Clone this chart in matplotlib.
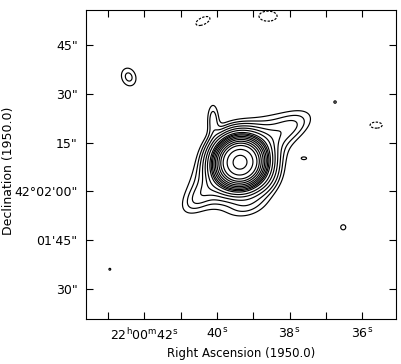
import numpy as np
import matplotlib
matplotlib.use("Agg")
import matplotlib.pyplot as plt

# map centre (RA seconds past 22h00m, Dec arcsec past 42d00m)
ra0 = 39.365
dec0 = 128.97

# emission components: offset east-west (arcsec, west +), offset north (arcsec),
# peak, sigma major, sigma minor (arcsec), angle of major axis (deg)
comp_dx = [0.0, 0.0, 15.4, -12.5, -8.3, 2.0, 9.0, -34.2, 31.7, 19.7, 29.2, -40.0, -11.4, 8.6, 41.8]
comp_dy = [0.0, 0.0, 10.8, -10.5, 13.2, -13.5, -6.0, 26.2, -20.0, 1.2, 18.5, -32.9, 43.4, 44.9, 11.4]
comp_amp = [1.0, 0.08, 0.025, 0.02, 0.025, 0.02, 0.015, 0.023, 0.014, 0.013, 0.0125, 0.0125, -0.016, -0.016, -0.016]
comp_smaj = [4.3, 10.0, 5.0, 4.0, 3.5, 4.5, 4.0, 2.43, 1.39, 1.5, 1.0, 1.0, 3.04, 3.65, 2.43]
comp_smin = [4.3, 4.4, 2.5, 2.0, 1.3, 2.5, 2.5, 1.88, 1.39, 0.77, 1.0, 1.0, 1.42, 2.03, 1.22]
comp_pa = [0, 40, 30, 45, 90, 15, 60, 110, 0, 0, 0, 0, 25, 0, 0]

neg_levels = [-0.012]
pos_levels = [0.012, 0.02, 0.03, 0.045, 0.065, 0.09, 0.125, 0.15, 0.175, 0.21,
              0.25, 0.30, 0.365, 0.44, 0.54, 0.72, 0.96]

xticks = [43, 42, 41, 40, 39, 38, 37, 36]
xlabels = ['', r'22$^{\rm h}$00$^{\rm m}$42$^{\rm s}$', '', r'40$^{\rm s}$', '',
           r'38$^{\rm s}$', '', r'36$^{\rm s}$']
yticks = [165, 150, 135, 120, 105, 90]
ylabels = ['45"', '30"', '15"', '42\u00b002\'00"', '01\'45"', '30"']

ra = np.linspace(35.0, 43.7, 900)
dec = np.linspace(80.0, 176.5, 900)
RA, DEC = np.meshgrid(ra, dec)
scale = 15 * np.cos(np.radians(42.0))
X = (ra0 - RA) * scale
Y = DEC - dec0

Z = np.zeros_like(X)
for dx, dy, a, sj, sn, pa in zip(comp_dx, comp_dy, comp_amp, comp_smaj, comp_smin, comp_pa):
    t = np.radians(pa)
    u = (X - dx) * np.cos(t) + (Y - dy) * np.sin(t)
    v = -(X - dx) * np.sin(t) + (Y - dy) * np.cos(t)
    Z += a * np.exp(-0.5 * ((u / sj) ** 2 + (v / sn) ** 2))

fig = plt.figure(figsize=(4.01, 3.64), dpi=100)
ax = fig.add_axes([86 / 401, 45 / 364, 310 / 401, 309 / 364])
ax.contour(RA, DEC, Z, levels=pos_levels, colors='black', linewidths=0.85)
ax.contour(RA, DEC, Z, levels=neg_levels, colors='black', linewidths=0.85,
           linestyles=[(0, (2, 1.2))])

ax.set_xlim(43.61, 35.067)
ax.set_ylim(80.78, 175.76)
ax.set_xticks(xticks)
ax.set_xticklabels(xlabels)
ax.set_yticks(yticks)
ax.set_yticklabels(ylabels)
ax.tick_params(direction='in', length=5, width=0.8, top=True, right=True,
               labelsize=9, pad=6)
for s in ax.spines.values():
    s.set_linewidth(0.8)
ax.set_xlabel('Right Ascension (1950.0)', fontsize=8.5, labelpad=3)
ax.set_ylabel('Declination (1950.0)', fontsize=9)
ax.yaxis.set_label_coords(-0.229, 0.48)

fig.savefig('out.png', dpi=100)
